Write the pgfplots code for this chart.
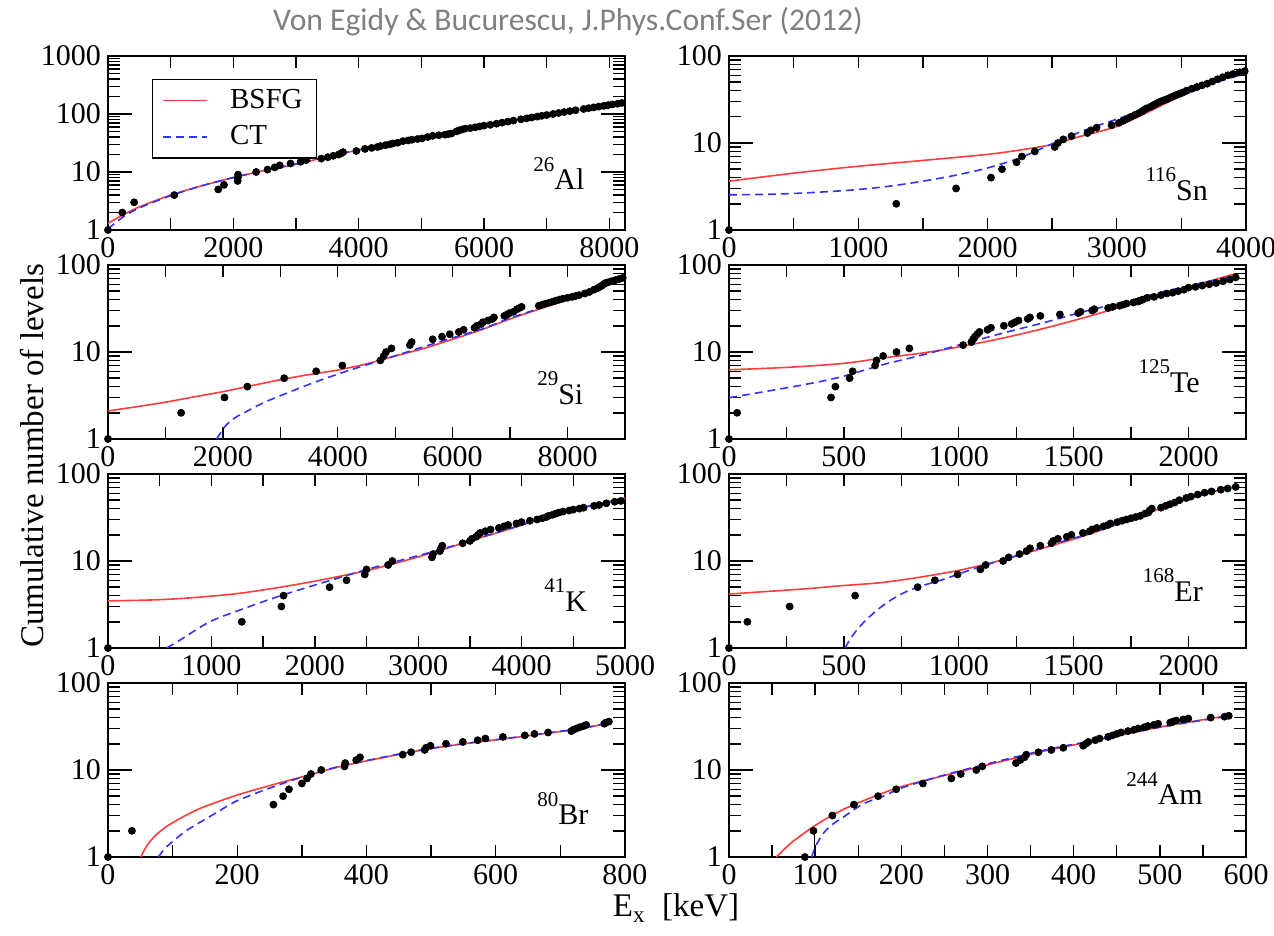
\documentclass[border=0pt]{standalone}
\usepackage{fontspec}
\setmainfont{Liberation Serif}
\newfontfamily\serif{Liberation Serif}
\newfontfamily\titlefont{Carlito}
\usepackage{pgfplots}
\pgfplotsset{compat=1.18}
\definecolor{bsfgc}{RGB}{255,60,60}
\definecolor{ctc}{RGB}{50,50,255}
\newcommand{\nuc}[2]{\raisebox{0.62em}{\fontsize{10.5}{10.5}\selectfont #1}#2}
\pgfplotsset{
 every axis/.append style={anchor=south west, width=258.5pt, height=87pt, scale only axis,
   ymode=log, ymin=1, ymax=100, ytick={1,10,100},
   minor ytick={2,3,4,5,6,7,8,9,20,30,40,50,60,70,80,90},
   log ticks with fixed point, xmin=0, major x tick style=transparent,
   axis line style={line width=1pt}, tick style={line width=0.7pt, black},
   major tick length=12pt, minor tick length=6pt,
   tick label style={font=\serif\fontsize{15}{15}\selectfont},
   /pgf/number format/assume math mode=true, /pgf/number format/1000 sep={},
   scaled x ticks=false},
}
\tikzset{
 pts/.style={only marks, mark=*, mark size=1.75pt, black},
 bsfg/.style={color=bsfgc, line width=0.8pt, smooth},
 ct/.style={color=ctc, line width=0.8pt, dash pattern=on 4pt off 2.5pt, smooth},
 nl/.style={anchor=base east, font=\serif\fontsize{15}{15}\selectfont},
}
\begin{document}
\begin{tikzpicture}
\useasboundingbox (0,0) rectangle (637pt,468pt);
\node[font=\titlefont\fontsize{15.8}{15.8}\selectfont, text=black!50] at (284pt,457pt) {Von Egidy \& Bucurescu, J.Phys.Conf.Ser (2012)};
\node[rotate=90, font=\serif\fontsize{16.5}{16.5}\selectfont] at (16pt,240pt) {Cumulative number of levels};
\node[font=\serif\fontsize{16.5}{16.5}\selectfont] at (338pt,14pt) {E\textsubscript{x}\ \ [keV]};

% 26Al
\begin{axis}[at={(54pt,353pt)}, xmax=8250, xtick={0,2000,4000,6000,8000},
  minor xtick={1000,2000,3000,4000,5000,6000,7000,8000},
  ymax=1000, ytick={1,10,100,1000},
  minor ytick={2,3,4,5,6,7,8,9,20,30,40,50,60,70,80,90,200,300,400,500,600,700,800,900},
  legend style={at={(0.085,0.868)}, anchor=north west, draw=black, line width=0.6pt,
    font=\serif\fontsize{14.5}{14.5}\selectfont, inner xsep=5pt, inner ysep=3pt, row sep=3pt,
    /tikz/every odd column/.append style={column sep=9pt}},
  legend cell align=left,
  legend image code/.code={\draw[#1] (0pt,0pt) -- (22pt,0pt);}]
\addplot[pts, forget plot] coordinates {(0,1)(228,2)(417,3)(1058,4)(1759,5)(1851,6)(2069,7)(2072,8)(2075,9)(2365,10)(2545,11)(2661,12)(2740,13)(2913,14)(3074,15)(3160,16)(3403,17)(3508,18)(3596,19)(3681,20)(3723,21)(3750,22)(3963,23)(4100,25)(4206,26)(4300,27)(4349,28)(4430,29)(4500,30)(4548,31)(4623,32)(4705,34)(4790,35)(4850,36)(4940,37)(5010,38)(5100,40)(5180,42)(5280,43)(5380,44)(5430,45)(5480,46)(5560,50)(5600,52)(5650,54)(5700,56)(5780,57)(5860,59)(5930,61)(6000,63)(6100,65)(6200,68)(6290,71)(6380,74)(6470,77)(6590,81)(6680,84)(6760,87)(6850,90)(6920,93)(7000,96)(7100,100)(7190,104)(7280,108)(7370,112)(7460,116)(7590,122)(7670,126)(7750,130)(7830,134)(7910,138)(7980,142)(8050,146)(8130,150)(8200,155)};
\addplot[bsfg] coordinates {(0,1.3)(250,1.85)(500,2.5)(1000,4.0)(1500,5.8)(2000,8.0)(2500,10.6)(3000,13.6)(3500,18.3)(4000,23.9)(4500,30)(5000,38)(5500,49)(6000,62)(6500,78)(7000,96)(7500,118)(8000,143)(8250,157)};
\addlegendentry{BSFG}
\addplot[ct] coordinates {(0,1.05)(250,1.7)(500,2.4)(1000,3.9)(1500,5.8)(2000,8.0)(2500,10.7)(3000,13.8)(3500,18.5)(4000,24)(4500,30.5)(5000,38.5)(5500,49)(6000,62)(6500,78)(7000,96)(7500,118)(8000,143)(8250,157)};
\addlegendentry{CT}
\node[nl] at (rel axis cs:0.935,0.23) {\nuc{26}{Al}};
\end{axis}

% 116Sn
\begin{axis}[at={(364.5pt,353pt)}, xmax=4000, xtick={0,1000,2000,3000,4000},
  minor xtick={500,1000,1500,2000,2500,3000,3500}]
\addplot[pts] coordinates {(0,1)(1294,2)(1757,3)(2027,4)(2112,5)(2225,6)(2266,7)(2366,8)(2520,9)(2545,10)(2586,11)(2650,12)(2773,13)(2801,14)(2844,15)(2960,16)(3016,17)(3050,18)(3080,19)(3110,20)(3140,21)(3170,22)(3195,23)(3210,24)(3230,25)(3260,26)(3280,27)(3300,28)(3320,29)(3340,30)(3365,31)(3390,32)(3410,33)(3430,34)(3450,35)(3470,36)(3490,37)(3510,38)(3540,40)(3580,42)(3620,44)(3660,46)(3700,48)(3740,51)(3780,54)(3820,57)(3860,60)(3900,62)(3950,65)(3990,67)};
\addplot[bsfg] coordinates {(0,3.64)(500,4.5)(1000,5.4)(1500,6.3)(2000,7.4)(2250,8.3)(2500,9.6)(2700,11.7)(3000,15.5)(3250,23)(3500,34.8)(3750,49.5)(4000,69)};
\addplot[ct] coordinates {(0,2.54)(250,2.56)(500,2.63)(750,2.75)(1000,2.92)(1250,3.2)(1500,3.64)(1750,4.25)(2000,5.16)(2250,6.73)(2500,9.8)(2750,14.0)(3000,18.8)(3250,25.5)(3500,34.8)(3750,48.6)(4000,63)};
\node[nl] at (rel axis cs:0.94,0.17) {\nuc{116}{Sn}};
\end{axis}

% 29Si
\begin{axis}[at={(54pt,248.5pt)}, xmax=9000, xtick={0,2000,4000,6000,8000},
  minor xtick={1000,2000,3000,4000,5000,6000,7000,8000}]
\addplot[pts] coordinates {(0,1)(1273,2)(2028,3)(2426,4)(3067,5)(3624,6)(4080,7)(4741,8)(4800,9)(4840,10)(4934,11)(5255,12)(5286,13)(5652,14)(5814,15)(5949,16)(6107,17)(6191,18)(6381,19)(6422,20)(6497,21)(6528,22)(6615,23)(6690,24)(6720,25)(6900,26)(6950,27)(6990,28)(7060,29)(7120,31)(7160,32)(7200,33)(7500,34)(7560,35)(7620,36)(7690,37)(7750,38)(7800,39)(7860,40)(7920,41)(8000,42)(8080,43)(8140,44)(8200,45)(8300,47)(8380,49)(8460,52)(8520,54)(8560,56)(8600,58)(8630,60)(8660,62)(8700,63)(8760,65)(8830,67)(8900,69)(8960,71)};
\addplot[bsfg] coordinates {(0,2.1)(500,2.35)(1000,2.65)(1500,3.05)(2000,3.5)(2500,4.1)(3000,4.8)(3500,5.5)(4000,6.2)(4500,7.3)(5000,9.0)(5500,11.0)(6000,14.0)(6500,18.0)(7000,24)(7500,31)(8000,40)(8500,53)(9000,72)};
\addplot[ct] coordinates {(1890,1.0)(1950,1.15)(2030,1.38)(2130,1.6)(2250,1.82)(2430,2.1)(2700,2.6)(3030,3.2)(3630,4.57)(4230,6.25)(4740,7.96)(5250,10.2)(5850,13.6)(6500,18.3)(7000,24.5)(7500,31.5)(8000,40.5)(8500,53.5)(9000,73)};
\node[nl] at (rel axis cs:0.933,0.20) {\nuc{29}{Si}};
\end{axis}

% 125Te
\begin{axis}[at={(364.5pt,248.5pt)}, xmax=2250, xtick={0,500,1000,1500,2000},
  minor xtick={250,500,750,1000,1250,1500,1750,2000}]
\addplot[pts] coordinates {(0,1)(35,2)(444,3)(463,4)(525,5)(538,6)(636,7)(642,8)(671,9)(729,10)(785,11)(1019,12)(1055,13)(1062,14)(1070,15)(1080,16)(1090,17)(1125,18)(1140,19)(1196,20)(1230,21)(1245,22)(1260,23)(1300,24)(1310,25)(1355,26)(1440,27)(1520,28)(1530,29)(1580,30)(1590,31)(1650,32)(1670,33)(1700,34)(1715,35)(1730,36)(1760,37)(1780,38)(1790,39)(1800,40)(1820,42)(1850,43)(1880,45)(1905,47)(1930,48)(1955,50)(1980,52)(2000,55)(2030,56)(2060,58)(2090,60)(2120,62)(2150,65)(2180,68)(2205,72)};
\addplot[bsfg] coordinates {(0,6.25)(250,6.65)(500,7.4)(670,8.55)(850,9.8)(1020,11.7)(1200,14.6)(1375,18.8)(1550,25)(1725,34.2)(1900,47.6)(2080,64)(2200,79)};
\addplot[ct] coordinates {(0,2.98)(320,4.18)(490,5.2)(670,7.15)(850,9.35)(1020,12.4)(1200,16.7)(1375,21.9)(1550,29.4)(1725,38)(1900,50)(2080,64)(2200,75)};
\node[nl] at (rel axis cs:0.924,0.27) {\nuc{125}{Te}};
\end{axis}

% 41K
\begin{axis}[at={(54pt,144pt)}, xmax=5000, xtick={0,1000,2000,3000,4000,5000},
  minor xtick={500,1000,1500,2000,2500,3000,3500,4000,4500}]
\addplot[pts] coordinates {(0,1)(1294,2)(1677,3)(1698,4)(2143,5)(2307,6)(2483,7)(2500,8)(2710,9)(2750,10)(3133,11)(3143,12)(3210,13)(3220,14)(3233,15)(3430,16)(3500,17)(3520,18)(3560,19)(3580,20)(3600,21)(3650,22)(3700,23)(3780,24)(3830,25)(3870,26)(3950,27)(4000,28)(4080,29)(4150,30)(4200,31)(4240,32)(4260,33)(4300,34)(4330,35)(4360,36)(4400,37)(4460,38)(4500,39)(4560,40)(4600,41)(4700,43)(4750,44)(4820,46)(4900,48)(4960,49)};
\addplot[bsfg] coordinates {(0,3.48)(583,3.63)(1250,4.22)(1917,5.62)(2500,7.76)(2900,10.3)(3250,13.7)(3600,18.5)(3917,24)(4417,37)(4700,44)(5000,52.9)};
\addplot[ct] coordinates {(567,1.0)(700,1.24)(983,2.0)(1300,2.8)(1683,4.04)(2250,6.5)(2583,8.5)(3250,13.9)(3917,24.2)(4417,37.3)(5000,51.5)};
\node[nl] at (rel axis cs:0.94,0.21) {\nuc{41}{K}};
\end{axis}

% 168Er
\begin{axis}[at={(364.5pt,144pt)}, xmax=2250, xtick={0,500,1000,1500,2000},
  minor xtick={250,500,750,1000,1250,1500,1750,2000}]
\addplot[pts] coordinates {(0,1)(80,2)(264,3)(549,4)(821,5)(896,6)(995,7)(1094,8)(1117,9)(1193,10)(1217,11)(1264,12)(1295,13)(1310,14)(1355,15)(1403,16)(1411,17)(1431,18)(1470,19)(1490,20)(1540,21)(1570,22)(1580,23)(1600,24)(1630,25)(1650,26)(1660,27)(1690,28)(1710,29)(1730,30)(1750,31)(1770,32)(1790,33)(1810,35)(1825,36)(1830,38)(1840,40)(1880,41)(1900,43)(1920,45)(1940,47)(1960,50)(1990,53)(2010,55)(2040,58)(2070,61)(2100,63)(2140,66)(2170,68)(2205,71)};
\addplot[bsfg] coordinates {(0,4.17)(314,4.75)(491,5.2)(667,5.66)(844,6.6)(1020,8.0)(1197,10.4)(1373,14.2)(1550,19.6)(1726,28.6)(1903,42.4)(2079,60)(2200,71)};
\addplot[ct] coordinates {(505,1.0)(530,1.3)(560,1.65)(600,2.15)(650,2.8)(700,3.5)(760,4.3)(830,5.1)(930,6.1)(1020,7.4)(1110,8.9)(1197,10.4)(1373,14.6)(1550,20)(1726,29)(1903,42.4)(2079,60)(2200,71)};
\node[nl] at (rel axis cs:0.93,0.27) {\nuc{168}{Er}};
\end{axis}

% 80Br
\begin{axis}[at={(54pt,39.5pt)}, xmax=800, xtick={0,200,400,600,800},
  minor xtick={100,200,300,400,500,600,700}]
\addplot[pts] coordinates {(0,1)(37,2)(256,4)(271,5)(280,6)(300,7)(308,8)(314,9)(330,10)(366,11)(367,12)(384,13)(390,14)(456,15)(469,16)(490,17)(492,18)(499,19)(523,20)(549,21)(572,22)(584,23)(611,24)(645,25)(660,26)(681,27)(717,28)(720,29)(725,30)(730,31)(736,32)(740,33)(768,34)(770,35)(775,36)};
\addplot[bsfg] coordinates {(51,1.0)(54,1.12)(58,1.27)(63,1.44)(70,1.66)(80,1.95)(93,2.3)(120,3.0)(147,3.73)(200,5.15)(253,6.7)(307,8.6)(360,11)(413,13.3)(467,16)(520,18.6)(573,21)(627,23.5)(680,26.5)(733,30)(776,34.9)};
\addplot[ct] coordinates {(78,1.0)(85,1.18)(93,1.36)(120,1.98)(147,2.62)(173,3.41)(200,4.44)(253,6.3)(307,8.6)(360,11.1)(413,13.4)(467,16.1)(520,18.7)(573,21.1)(627,23.6)(680,26.6)(733,30.1)(776,35)};
\node[nl] at (rel axis cs:0.943,0.185) {\nuc{80}{Br}};
\end{axis}

% 244Am
\begin{axis}[at={(364.5pt,39.5pt)}, xmax=600, xtick={0,100,200,300,400,500,600},
  minor xtick={50,100,150,200,250,300,350,400,450,500,550}]
\addplot[pts] coordinates {(88,1)(98,2)(120,3)(145,4)(173,5)(194,6)(225,7)(258,8)(269,9)(287,10)(294,11)(333,12)(338,13)(343,14)(345,15)(359,16)(374,17)(388,18)(411,19)(414,20)(417,21)(425,22)(430,23)(440,24)(445,25)(450,26)(455,27)(463,28)(470,29)(475,30)(482,31)(486,32)(493,33)(498,34)(512,35)(515,36)(519,37)(527,38)(533,39)(559,40)(575,41)(580,42)};
\addplot[black, line width=0.6pt] coordinates {(99,1)(99,2)};
\addplot[bsfg] coordinates {(55,1.0)(65,1.25)(75,1.53)(99,2.27)(122,3.1)(146,4.04)(197,6.3)(249,8.6)(296,11.2)(367,16.6)(414,20.7)(461,25.9)(508,32.3)(555,38.5)(583,42.8)};
\addplot[ct] coordinates {(96,1.0)(100,1.3)(105,1.6)(112,2.0)(122,2.45)(132,2.84)(155,4.04)(179,5.0)(202,6.3)(249,8.7)(296,11.5)(367,17)(414,21)(461,26)(508,32)(555,38)(583,42)};
\node[nl] at (rel axis cs:0.93,0.30) {\nuc{244}{Am}};
\end{axis}
\end{tikzpicture}
\end{document}
